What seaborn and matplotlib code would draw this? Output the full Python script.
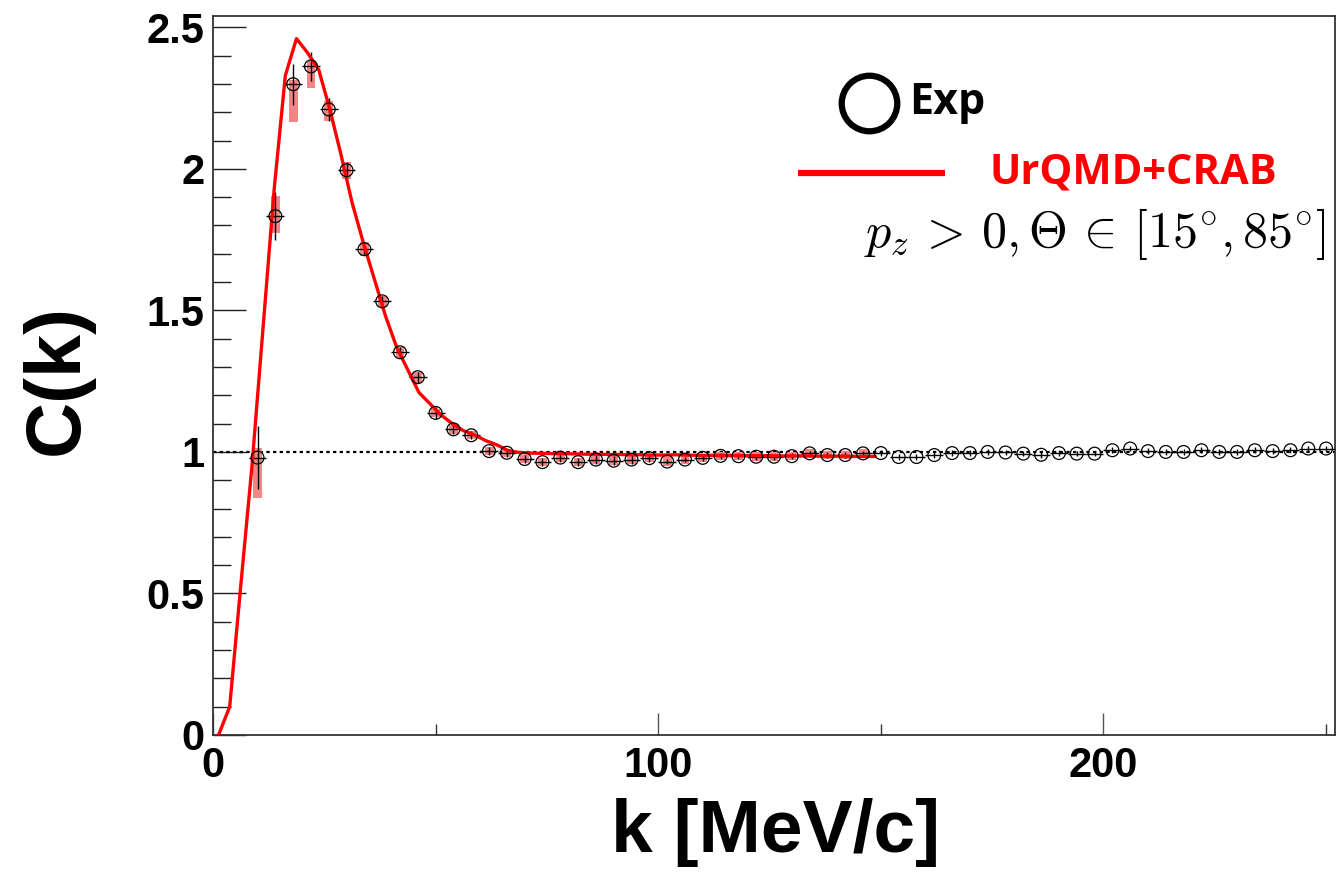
import numpy as np
import pandas as pd
import matplotlib
matplotlib.use("Agg")
import matplotlib.pyplot as plt
import seaborn as sns

# ---------------- data ----------------
exp_k = [10, 14, 18, 22, 26, 30, 34, 38, 42, 46, 50, 54, 58, 62, 66, 70, 74, 78, 82, 86,
         90, 94, 98, 102, 106, 110, 114, 118, 122, 126, 130, 134, 138, 142, 146, 150,
         154, 158, 162, 166, 170, 174, 178, 182, 186, 190, 194, 198, 202, 206, 210,
         214, 218, 222, 226, 230, 234, 238, 242, 246, 250]
exp_c = [0.980, 1.833, 2.299, 2.362, 2.210, 1.995, 1.716, 1.532, 1.352, 1.264, 1.138,
         1.080, 1.059, 1.003, 0.997, 0.975, 0.964, 0.980, 0.964, 0.973, 0.969, 0.973,
         0.978, 0.966, 0.973, 0.979, 0.986, 0.985, 0.983, 0.983, 0.985, 0.995, 0.989,
         0.989, 0.995, 0.996, 0.982, 0.982, 0.989, 0.996, 0.996, 1.000, 0.998, 0.994,
         0.990, 0.996, 0.994, 0.994, 1.006, 1.012, 1.003, 1.000, 1.000, 1.006, 1.000,
         1.000, 1.006, 1.003, 1.006, 1.012, 1.012]
exp_stat = [0.11, 0.085, 0.072, 0.05, 0.04, 0.03, 0.02, 0.02, 0.02, 0.02, 0.02] + [0.015] * 12 + [0.01] * 38
sys_hi = [0.033, 0.07, 0.014, 0.02, 0.03, 0.03, 0.025, 0.02, 0.02, 0.02] + [0.015] * 25 + [0.0] * 26
sys_lo = [0.144, 0.06, 0.133, 0.075, 0.04, 0.03, 0.025, 0.02, 0.02, 0.02] + [0.015] * 25 + [0.0] * 26

model_k = [1.25, 3.75, 6.25, 8.75, 11.25, 13.75, 16.25, 18.75, 21.25, 23.75, 26.25, 28.75,
           31.25, 33.75, 36.25, 38.75, 41.25, 43.75, 46.25, 48.75, 51.25, 53.75, 56.25,
           58.75, 61.25, 63.75, 66.25, 68.75, 71.25, 73.75, 76.25, 78.75, 81.25, 83.75,
           86.25, 88.75, 91.25, 93.75, 96.25, 98.75, 101.25, 103.75, 106.25, 108.75,
           111.25, 113.75, 116.25, 118.75, 121.25, 123.75, 126.25, 128.75, 131.25,
           133.75, 136.25, 138.75, 141.25, 143.75, 146.25, 148.75]
model_c = [0.0, 0.10, 0.53, 0.95, 1.44, 1.93, 2.33, 2.46, 2.41, 2.35, 2.21, 2.05, 1.88,
           1.74, 1.61, 1.48, 1.37, 1.29, 1.21, 1.17, 1.13, 1.10, 1.075, 1.06, 1.04, 1.025,
           1.005, 0.998, 0.996, 0.995, 0.994, 0.994, 0.993, 0.992, 0.992, 0.991, 0.991,
           0.990, 0.990, 0.989, 0.989, 0.990, 0.989, 0.988, 0.988, 0.988, 0.988, 0.987,
           0.987, 0.987, 0.986, 0.986, 0.986, 0.986, 0.985, 0.985, 0.985, 0.984, 0.984,
           0.984]

x_ticks = [0, 100, 200]
y_ticks = [0, 0.5, 1, 1.5, 2, 2.5]
y_ticklabels = ["0", "0.5", "1", "1.5", "2", "2.5"]

exp_df = pd.DataFrame({"k": exp_k, "C": exp_c, "stat": exp_stat,
                       "sys_hi": sys_hi, "sys_lo": sys_lo})
model_df = pd.DataFrame({"k": model_k, "C": model_c})

# ---------------- style ----------------
sns.set_theme(style="white")
plt.rcParams["font.family"] = ["Liberation Sans", "DejaVu Sans"]
plt.rcParams["mathtext.fontset"] = "cm"
for key in ["text.color", "axes.labelcolor", "xtick.color", "ytick.color"]:
    plt.rcParams[key] = "black"

fig = plt.figure(figsize=(13.39, 8.74), dpi=100)
ax = fig.add_axes([213 / 1339, 1 - 735 / 874, 1122 / 1339, 719 / 874])

# systematic error boxes
sys_df = exp_df[(exp_df.sys_hi + exp_df.sys_lo) > 0]
ax.bar(sys_df["k"], sys_df["sys_hi"] + sys_df["sys_lo"], bottom=sys_df["C"] - sys_df["sys_lo"],
       width=2.0, color="#f38585", edgecolor="none", zorder=2)

# reference line at 1
ax.axhline(1.0, color="black", lw=1.6, ls=(0, (1.5, 1.5)), zorder=1)

# model line
sns.lineplot(data=model_df, x="k", y="C", color="red", lw=2.4, ax=ax, zorder=4,
             sort=False, estimator=None)

# stat error bars
ax.errorbar(exp_df["k"], exp_df["C"], xerr=2.0, yerr=exp_df["stat"], fmt="none",
            ecolor="black", elinewidth=1.0, capsize=0, zorder=3)

# exp points (open circles)
sns.scatterplot(data=exp_df, x="k", y="C", marker="o", s=85, facecolors="none",
                edgecolors="black", linewidth=0.9, ax=ax, zorder=5)

ax.set_xlim(0, 252)
ax.set_ylim(0, 2.54)

ax.set_xticks(x_ticks)
ax.set_xticklabels([str(t) for t in x_ticks])
ax.set_xticks([50, 150, 250], minor=True)
ax.set_yticks(y_ticks)
ax.set_yticklabels(y_ticklabels)
ax.set_yticks(np.arange(0, 2.55, 0.1), minor=True)

ax.tick_params(axis="x", which="major", direction="in", length=16, width=1.0,
               color="#555555", labelsize=30, labelcolor="black", pad=8,
               bottom=True, top=False)
ax.tick_params(axis="x", which="minor", direction="in", length=8, width=1.0,
               color="#333333", bottom=True, top=False)
ax.tick_params(axis="y", which="major", direction="in", length=24, width=1.0,
               color="#222222", labelsize=30, labelcolor="black", pad=6,
               left=True, right=False)
ax.tick_params(axis="y", which="minor", direction="in", length=13, width=1.0,
               color="#222222", left=True, right=False)
for lab in ax.get_xticklabels() + ax.get_yticklabels():
    lab.set_fontweight("bold")

for sp in ax.spines.values():
    sp.set_color("#333333")
    sp.set_linewidth(1.3)

ax.set_xlabel("k [MeV/c]", fontsize=54, fontweight="bold", color="black")
ax.set_ylabel("C(k)", fontsize=56, fontweight="bold", color="black")
ax.xaxis.label.set_va("center")
ax.yaxis.label.set_va("center")
ax.xaxis.set_label_coords(0.501, -0.135)
ax.yaxis.set_label_coords(-0.139, 0.494)

# legend (hand-built, like the original)
ax.plot([0.585], [0.879], transform=ax.transAxes, marker="o", ms=40, mfc="none",
        mec="black", mew=4.5, clip_on=False)
ax.text(0.620, 0.879, "Exp", transform=ax.transAxes, fontsize=31, fontweight="bold",
        family=["Open Sans", "DejaVu Sans"], va="center", ha="left", color="black")
ax.plot([0.521, 0.652], [0.782, 0.782], transform=ax.transAxes, color="red", lw=4.5,
        solid_capstyle="butt")
ax.text(0.6925, 0.782, "UrQMD+CRAB", transform=ax.transAxes, fontsize=30,
        fontweight="bold", family=["Open Sans", "DejaVu Sans"], va="center", ha="left",
        color="red")
ax.text(0.580, 0.697, r"$p_z\,>\,0, \Theta\,\in\,[15^{\circ}, 85^{\circ}]$",
        transform=ax.transAxes, fontsize=36, va="center", ha="left", color="black")

fig.savefig("out.png", dpi=100)
